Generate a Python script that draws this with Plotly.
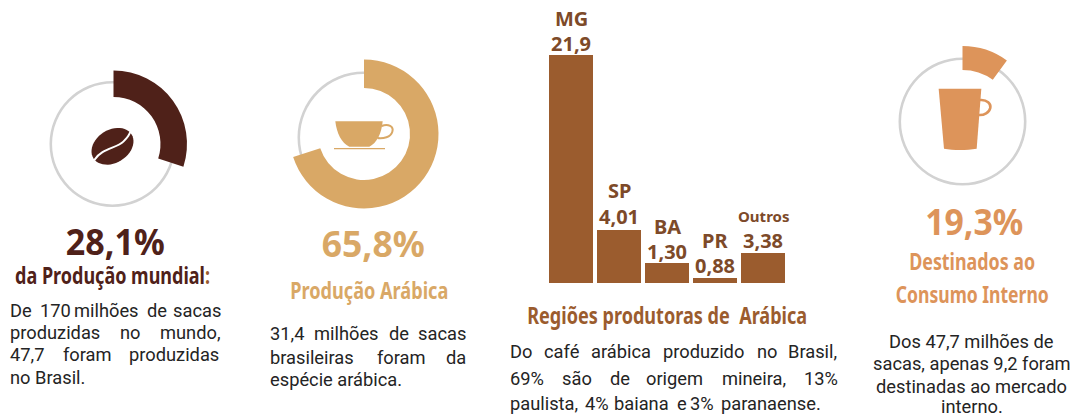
import json
import math
import plotly.graph_objects as go

W, H = 1081, 416

# ---- data ----
regions = ["MG", "SP", "BA", "PR", "Outros"]
region_labels = ["21,9", "4,01", "1,30", "0,88", "3,38"]
drawn_bar_values = [21.9, 5.09, 1.92, 0.48, 2.88]

world_arc = [30, 70]
arabica_arc = [70, 30]
domestic_arc = [10, 90]
ring_full = [100]

DARK, TAN, ORANGE, BAR, LABEL = "#4f2119", "#d9a866", "#dd945a", "#9b5c2e", "#7d4a29"
GRAY = "#d2d2d2"
BODY = "#242424"
HEAD = "Noto Sans, sans-serif"
TXT = "Roboto, sans-serif"


def px(x):
    return x / W


def py(y):
    return 1 - y / H


def pie(values, colors, cx, cy, r, hole):
    return go.Pie(
        values=values, marker=dict(colors=colors, line=dict(width=0)),
        domain=dict(x=[px(cx - r), px(cx + r)], y=[py(cy + r), py(cy - r)]),
        hole=hole, sort=False, direction="clockwise", rotation=0,
        textinfo="none", hoverinfo="skip", showlegend=False,
    )


fig = go.Figure()
# grey rings
for cx, cy, r in [(112.5, 144, 63), (363.5, 137.5, 66), (962.5, 121.5, 64)]:
    fig.add_trace(pie(ring_full, [GRAY], cx, cy, r, (r - 2.6) / r))
# arcs
fig.add_trace(pie(world_arc, [DARK, "rgba(0,0,0,0)"], 113.5, 144, 73.5, 47 / 73.5))
fig.add_trace(pie(arabica_arc, [TAN, "rgba(0,0,0,0)"], 364, 134, 74.5, 46 / 74.5))
fig.add_trace(pie(domestic_arc, [ORANGE, "rgba(0,0,0,0)"], 962.5, 121.5, 75.5, 51.5 / 75.5))

# bars
fig.add_trace(go.Bar(
    x=regions, y=drawn_bar_values, marker=dict(color=BAR, line=dict(width=0)),
    hoverinfo="skip", showlegend=False,
))

annotations = []


def txt(x, y, s, size, color, family=TXT, anchor="center", bold=False):
    annotations.append(dict(
        x=px(x), y=py(y), xref="paper", yref="paper", text=f"<b>{s}</b>" if bold else s,
        showarrow=False, xanchor=anchor, yanchor="middle",
        font=dict(family=family, size=size, color=color), borderpad=0,
    ))


# region names and values over bars
name_shift = [36, 40, 37, 38, 37]
value_shift = [11, 14, 12, 13, 12.5]
for name, label, v, s1, s2 in zip(regions, region_labels, drawn_bar_values, name_shift, value_shift):
    annotations.append(dict(
        x=name, y=v, xref="x", yref="y", text=f"<b>{name}</b>", showarrow=False,
        yshift=s1, yanchor="middle", xanchor="center",
        font=dict(family=HEAD, size=15 if name == "Outros" else 20, color=LABEL),
    ))
    annotations.append(dict(
        x=name, y=v, xref="x", yref="y", text=f"<b>{label}</b>", showarrow=False,
        yshift=s2, yanchor="middle", xanchor="center",
        font=dict(family=HEAD, size=20, color=LABEL),
    ))

# headline numbers
txt(115, 241, "28,1%", 36, DARK, HEAD, bold=True)
txt(373, 243, "65,8%", 36, TAN, HEAD, bold=True)
txt(974, 221, "19,3%", 36, ORANGE, HEAD, bold=True)

# subtitles (squeezed to their measured widths after drawing)
txt(112, 275, f'da Produção mundial<span style="color:{BAR}">:</span>', 23, DARK, HEAD, bold=True)
txt(369, 290, "Produção Arábica", 23, TAN, HEAD, bold=True)
txt(667, 315, "Regiões produtoras de  Arábica", 23, BAR, HEAD, bold=True)
txt(972, 261, "Destinados ao", 23, ORANGE, HEAD, bold=True)
txt(972, 294, "Consumo Interno", 23, ORANGE, HEAD, bold=True)
squeezed_widths = {
    "28,1%": 99,
    "65,8%": 103,
    "19,3%": 98,
    "da Produção mundial:": 195,
    "Produção Arábica": 158,
    "Regiões produtoras de  Arábica": 280,
    "Destinados ao": 126,
    "Consumo Interno": 153,
}

# body text, justified lines set word by word
body_size = 18.3
left_words = [
    (310, [(10, "De"), (40, "170"), (74, "milhões"), (147, "de"), (173, "sacas")]),
    (332, [(10, "produzidas"), (120, "no"), (160, "mundo,")]),
    (354, [(10, "47,7"), (63, "foram"), (129, "produzidas")]),
    (377, [(10, "no Brasil.")]),
    (333, [(270, "31,4"), (314, "milhões"), (389, "de"), (418, "sacas")]),
    (357, [(270, "brasileiras"), (377, "foram"), (446, "da")]),
    (379, [(270, "espécie arábica.")]),
    (351, [(510, "Do"), (544, "café"), (591, "arábica"), (663, "produzido"), (757, "no"), (788, "Brasil,")]),
    (378, [(510, "69%"), (562, "são"), (610, "de"), (646, "origem"), (722, "mineira,"), (804, "13%")]),
    (403, [(510, "paulista,"), (585, "4%"), (614, "baiana"), (677, "e"), (690, "3%"), (721, "paranaense.")]),
]
for y, words in left_words:
    for x, w in words:
        txt(x - 1, y, w, body_size, BODY, anchor="left")
for y, s in [(341, "Dos 47,7 milhões de"), (363, "sacas, apenas 9,2 foram"),
             (386, "destinadas ao mercado"), (406, "interno.")]:
    txt(971.5, y, s, body_size, BODY)


# ---- decorative icons ----
def path(cmds):
    out = []
    for c in cmds:
        if isinstance(c, str):
            out.append(c)
        else:
            out.append(f"{px(c[0]):.5f},{py(c[1]):.5f}")
    return " ".join(out)


shapes = []


def z1(a, b):
    return (a / 3, 50 + b / 3)


def z2(a, b):
    return (270 + a / 3, 50 + b / 3)


def z4(a, b):
    return (880 + a / 3, 30 + b / 3)


# bean
bx, by, ba, bb, rot = 112.5, 146.3, 22.5, 16.5, math.radians(-32)
pts = []
for i in range(48):
    t = 2 * math.pi * i / 48
    ex, ey = ba * math.cos(t), bb * math.sin(t)
    pts.append((bx + ex * math.cos(rot) - ey * math.sin(rot), by + ex * math.sin(rot) + ey * math.cos(rot)))
shapes.append(dict(type="path", xref="paper", yref="paper", line=dict(width=0), fillcolor=DARK,
                   path="M " + " L ".join(f"{px(p[0]):.5f},{py(p[1]):.5f}" for p in pts) + " Z"))
shapes.append(dict(type="path", xref="paper", yref="paper", line=dict(width=2, color="white"),
                   path=path(["M", z1(283, 330), "C", z1(305, 295), z1(350, 295), z1(370, 275), "S", z1(385, 255), z1(392, 245)])))

# cup
shapes.append(dict(type="path", xref="paper", yref="paper", line=dict(width=0), fillcolor=TAN,
                   path=path(["M", z2(196, 214), "L", z2(338, 214), "C", z2(335, 250), z2(320, 280), z2(298, 290),
                              "L", z2(238, 290), "C", z2(215, 280), z2(200, 250), z2(196, 214), "Z"])))
shapes.append(dict(type="path", xref="paper", yref="paper", line=dict(width=2, color=TAN),
                   path=path(["M", z2(335, 228), "C", z2(355, 220), z2(372, 230), z2(367, 245),
                              "C", z2(362, 262), z2(340, 266), z2(322, 264)])))
shapes.append(dict(type="path", xref="paper", yref="paper", line=dict(width=1.3, color=TAN),
                   path=path(["M", z2(192, 296), "L", z2(345, 296)])))

# mug
shapes.append(dict(type="path", xref="paper", yref="paper", line=dict(width=0), fillcolor=ORANGE,
                   path=path(["M", z4(176, 176), "L", z4(304, 176), "L", z4(290, 356), "C", z4(260, 361), z4(220, 361), z4(192, 356), "Z"])))
shapes.append(dict(type="path", xref="paper", yref="paper", line=dict(width=2.6, color=ORANGE),
                   path=path(["M", z4(300, 210), "C", z4(322, 208), z4(333, 222), z4(331, 233),
                              "C", z4(328, 248), z4(312, 256), z4(297, 255)])))

fig.update_layout(
    width=W, height=H, margin=dict(l=0, r=0, t=0, b=0),
    paper_bgcolor="white", plot_bgcolor="rgba(0,0,0,0)",
    bargap=4 / 48,
    xaxis=dict(domain=[px(547), px(787)], range=[-0.5, 4.5], type="category", categoryorder="array",
               categoryarray=regions, visible=False, fixedrange=True),
    yaxis=dict(domain=[py(283), py(55)], range=[0, 21.9], visible=False, fixedrange=True),
    annotations=annotations, shapes=shapes,
)

post = """
document.body.style.margin = '0';
document.documentElement.style.overflow = 'hidden';
var targets = %s;
function squeeze() {
  document.querySelectorAll('text.annotation-text').forEach(function (t) {
    var w = targets[t.textContent.replace(/\\u00a0/g, ' ')];
    if (w) {
      var k = w / t.getBBox().width;
      t.style.transformBox = 'fill-box';
      t.style.transformOrigin = 'center';
      t.style.transform = 'scaleX(' + k + ')';
    }
  });
}
squeeze();
setTimeout(squeeze, 50);
""" % json.dumps(squeezed_widths)

fig.write_html("out.html", config=dict(displayModeBar=False, responsive=False), post_script=post)
